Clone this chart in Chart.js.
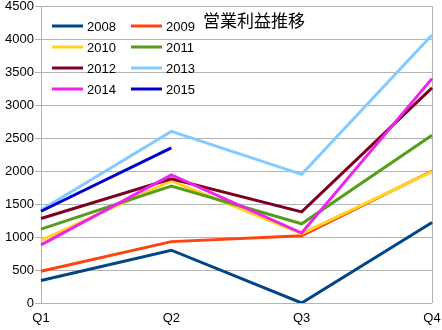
<!DOCTYPE html>
<html>
<head>
<meta charset="utf-8">
<script src="https://cdn.jsdelivr.net/npm/chart.js@4"></script>
<style>
  html, body { margin: 0; padding: 0; background: #fff; }
  #wrap { width: 442px; height: 330px; }
</style>
</head>
<body>
<div id="wrap"><canvas id="chartEigyo" width="442" height="330"></canvas></div>
<script>
// --- data ---
const quarters = ['Q1', 'Q2', 'Q3', 'Q4'];
const years = ['2008', '2009', '2010', '2011', '2012', '2013', '2014', '2015'];
const v2008 = [340, 800, 0, 1220];
const v2009 = [480, 930, 1020, 2000];
const v2010 = [950, 1850, 1050, 1990];
const v2011 = [1120, 1770, 1200, 2540];
const v2012 = [1280, 1880, 1380, 3260];
const v2013 = [1410, 2600, 1950, 4060];
const v2014 = [880, 1940, 1060, 3400];
const v2015 = [1390, 2350, null, null];
const chartTitle = '営業利益推移';

const seriesValues = [v2008, v2009, v2010, v2011, v2012, v2013, v2014, v2015];
const colors = ['#004586', '#ff420e', '#ffd320', '#579d1c', '#7e0021', '#83caff', '#ee22ee', '#0000cc'];

// legend + title inside plot area
const insideLegend = {
    id: 'insideLegend',
    afterDraw(chart) {
        const ctx = chart.ctx;
        ctx.save();
        ctx.font = '13px "Liberation Sans", Arial, sans-serif';
        ctx.textBaseline = 'middle';
        ctx.textAlign = 'left';
        chart.data.datasets.forEach((ds, i) => {
            const col = i % 2, row = Math.floor(i / 2);
            const x = 52 + col * 79;
            const y = 26 + row * 21;
            ctx.strokeStyle = ds.borderColor;
            ctx.lineWidth = 3;
            ctx.beginPath();
            ctx.moveTo(x, y);
            ctx.lineTo(x + 31, y);
            ctx.stroke();
            ctx.fillStyle = '#000';
            ctx.fillText(ds.label, x + 35, y + 1);
        });
        ctx.font = '17px "Noto Sans CJK JP", sans-serif';
        ctx.fillText(chartTitle, 203, 21);
        ctx.restore();
    }
};

const ctx = document.getElementById('chartEigyo');
new Chart(ctx, {
    type: 'line',
    data: {
        labels: quarters,
        datasets: years.map((y, i) => ({
            label: y,
            data: seriesValues[i],
            borderColor: colors[i],
            backgroundColor: colors[i],
            borderWidth: 3,
            pointRadius: 0,
            tension: 0,
            fill: false,
            order: -i
        }))
    },
    options: {
        responsive: false,
        animation: false,
        layout: { padding: { top: 6, right: 10, left: 0, bottom: 0 } },
        plugins: { legend: { display: false }, tooltip: { enabled: false } },
        scales: {
            x: {
                offset: false,
                afterFit: s => { s.height = 27; s.paddingRight = 0; s.paddingLeft = 0; },
                grid: {
                    color: c => (c.index === 3 ? '#b3b3b3' : 'rgba(0,0,0,0)'),
                    drawTicks: false
                },
                border: { display: false },
                ticks: { color: '#000', padding: 8, maxRotation: 0, font: { family: '"Liberation Sans"', size: 13 } }
            },
            y: {
                min: 0,
                max: 4500,
                afterFit: s => { s.width = 41; s.paddingTop = 0; s.paddingBottom = 0; },
                ticks: {
                    stepSize: 500, color: '#000', padding: 1,
                    callback: v => String(v),
                    font: { family: '"Liberation Sans"', size: 13 }
                },
                grid: { color: '#b3b3b3', tickLength: 6 },
                border: { color: '#b3b3b3' }
            }
        }
    },
    plugins: [insideLegend]
});
</script>
</body>
</html>
